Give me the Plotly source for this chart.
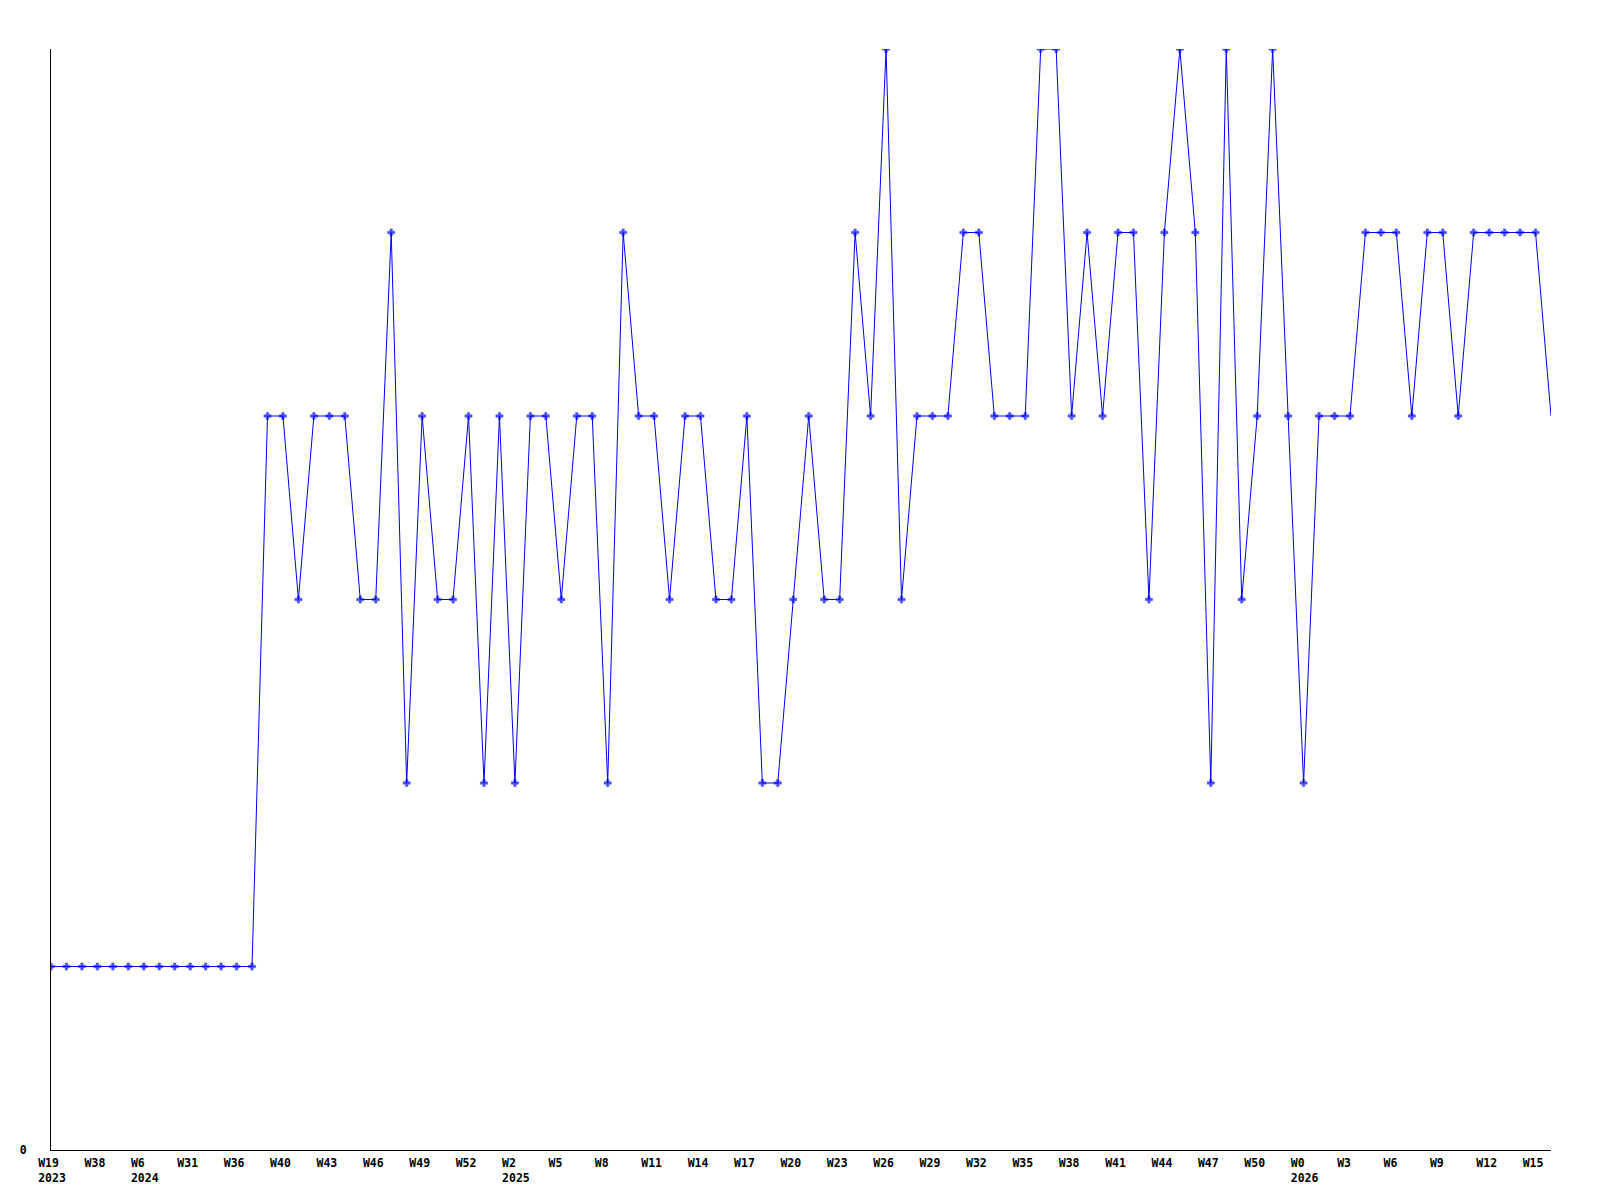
import plotly.graph_objects as go

values = [1]*14 + [
    4, 4, 3, 4, 4, 4, 3, 3, 5, 2,
    4, 3, 3, 4, 2, 4, 2, 4, 4, 3,
    4, 4, 2, 5, 4, 4, 3, 4, 4, 3,
    3, 4, 2, 2, 3, 4, 3, 3, 5, 4,
    6, 3, 4, 4, 4, 5, 5, 4, 4, 4,
    6, 6, 4, 5, 4, 5, 5, 3, 5, 6,
    5, 2, 6, 3, 4, 6, 4, 2, 4, 4,
    4, 5, 5, 5, 4, 5, 5, 4, 5, 5,
    5, 5, 5, 4,
]

week_labels = ["W19", "W38", "W6", "W31", "W36", "W40", "W43", "W46", "W49", "W52",
               "W2", "W5", "W8", "W11", "W14", "W17", "W20", "W23", "W26", "W29",
               "W32", "W35", "W38", "W41", "W44", "W47", "W50", "W0", "W3", "W6",
               "W9", "W12", "W15"]
year_labels = {0: "2023", 2: "2024", 10: "2025", 27: "2026"}

x = list(range(len(values)))
tick_step = 3
tickvals = [i * tick_step for i in range(len(week_labels))]
ticktext = []
for i, w in enumerate(week_labels):
    t = w.ljust(4, "\u00a0")
    if i in year_labels:
        t += "<br>" + year_labels[i]
    ticktext.append(t)

sizes = [6] * (len(values) - 1) + [0]

fig = go.Figure(go.Scatter(
    x=x, y=values, mode="lines+markers",
    line=dict(color="#0000ff", width=1),
    marker=dict(symbol="cross", size=sizes, color="#0000ff",
                line=dict(width=0.5, color="#0000ff")),
    hoverinfo="skip",
))

font = dict(family="DejaVu Sans Mono, monospace", size=11.5, color="#000000", weight="bold")

fig.update_layout(
    width=1600, height=1200,
    margin=dict(l=43, r=57, t=41, b=58),
    plot_bgcolor="white", paper_bgcolor="white",
    showlegend=False,
    xaxis=dict(
        range=[0, len(values) - 1], automargin=False,
        tickmode="array", tickvals=tickvals, ticktext=ticktext,
        showgrid=False, zeroline=False,
        showline=True, linecolor="black", linewidth=1,
        ticks="", tickfont=font, ticklabelshift=1, ticklabelstandoff=2,
    ),
    yaxis=dict(
        range=[0, 6], automargin=False,
        tickmode="array", tickvals=[0], ticktext=["0"],
        showgrid=False, zeroline=False,
        showline=True, linecolor="black", linewidth=1,
        ticks="", tickfont=font, ticklabelstandoff=21,
    ),
)

fig.write_html("out.html")
